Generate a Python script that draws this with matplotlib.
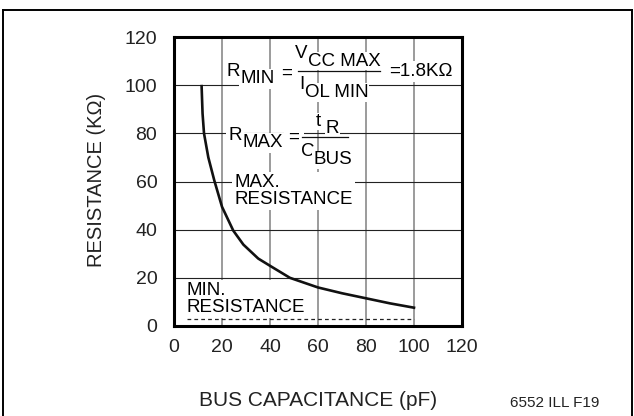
import matplotlib
matplotlib.use("Agg")
import matplotlib.pyplot as plt
from matplotlib.lines import Line2D

plt.rcParams['font.family'] = ['Liberation Sans', 'DejaVu Sans']

# curve: bus capacitance (pF) vs max resistance (kOhm)
cap_pf = [11.5, 11.9, 12.5, 14.3, 16.8, 20, 24.7, 28.9, 35.1, 40, 48.3, 60, 70, 80, 90, 100]
r_max = [99.6, 88.2, 80, 70, 60.4, 49.5, 39.6, 33.8, 28.0, 25.0, 20.0, 16, 13.6, 11.5, 9.4, 7.6]

# min resistance line (dashed)
min_x = [5.3, 100]
min_r = [2.8, 2.8]

x_ticks = [0, 20, 40, 60, 80, 100, 120]
y_ticks = [0, 20, 40, 60, 80, 100, 120]

fig = plt.figure(figsize=(6.34, 4.16), dpi=100)
ax = fig.add_axes([174 / 634, 1 - 326 / 416, 288 / 634, 289 / 416])

# outer frame of the figure
top = 1 - 10 / 416
for xs, ys in [([3, 3], [0, top]), ([3, 632], [top, top]), ([632, 632], [0, top])]:
    fig.add_artist(Line2D([v / 634 for v in xs], ys, color='black', lw=1.4,
                          transform=fig.transFigure))

ax.set_xlim(0, 120)
ax.set_ylim(0, 120)
ax.set_xticks(x_ticks)
ax.set_yticks(y_ticks)
ax.tick_params(length=0, labelsize=14, colors='#222222')
ax.tick_params(axis='y', pad=12)
ax.tick_params(axis='x', pad=9)
for s in ax.spines.values():
    s.set_linewidth(2.2)

# grid: gray verticals, thin black horizontals
for x in x_ticks[1:-1]:
    ax.axvline(x, color='#8a8a8a', lw=1.2, zorder=1)
for y in y_ticks[1:-1]:
    ax.axhline(y, color='#222222', lw=0.8, zorder=1)

ax.plot(cap_pf, r_max, color='#111111', lw=1.9, zorder=6, solid_joinstyle='round')
ax.plot(min_x, min_r, color='#222222', lw=0.9, ls=(0, (3, 2.5)), zorder=3)

fs = 13.5


def box(p=1.5):
    return dict(facecolor='white', edgecolor='none', pad=p)


def sub_text(x, y, main, sub, dy=-5.5):
    t = ax.text(x, y, main, fontsize=fs, ha='left', va='center', bbox=box(), zorder=4.5)
    ax.annotate(sub, xy=(1, 0.5), xycoords=t, xytext=(0.6, dy), textcoords='offset points',
                ha='left', va='center', fontsize=fs, bbox=box(1.0), zorder=4)
    return t


def plain(x, y, s, p=0.5, ha='left', z=4):
    ax.text(x, y, s, fontsize=fs, ha=ha, va='center', bbox=box(p), zorder=z)


# R_MIN formula
sub_text(21.7, 105.8, 'R', 'MIN')
plain(47.0, 105.0, '=', p=5, ha='center')
plain(50.4, 113.3, 'V', p=0)
plain(55.9, 110.0, 'CC MAX')
plain(52.0, 100.2, 'I', p=3, z=3.9)
plain(54.4, 96.9, 'OL MIN')
ax.plot([51.7, 85.8], [106, 106], color='#111111', lw=0.9, zorder=5)
plain(89.6, 105.6, '=1.8K\u03a9', p=1.5)

# R_MAX formula
sub_text(22.5, 79.2, 'R', 'MAX')
plain(50.0, 78.4, '=', p=3, ha='center')
plain(59.0, 84.8, 't', p=0)
plain(63.3, 82.0, 'R')
plain(53.0, 72.3, 'C', p=0)
plain(58.0, 69.0, 'BUS')
ax.plot([53.4, 72.6], [78.5, 78.5], color='#111111', lw=0.9, zorder=5)

ax.text(25.0, 56.0, 'MAX.\nRESISTANCE', fontsize=fs, ha='left', va='center',
        linespacing=1.0, bbox=box(), zorder=4)
ax.text(5.3, 11.1, 'MIN.\nRESISTANCE', fontsize=fs, ha='left', va='center',
        linespacing=1.0, bbox=box(), zorder=4)

fig.text(96 / 634, 1 - 180 / 416, 'RESISTANCE (K\u03a9)', rotation=90, fontsize=14.5,
         ha='center', va='center', color='#222222')
fig.text(318 / 634, 1 - 400 / 416, 'BUS CAPACITANCE (pF)', fontsize=15,
         ha='center', va='center', color='#222222')
fig.text(555 / 634, 1 - 403 / 416, '6552 ILL F19',
         family=['Liberation Sans Narrow', 'Liberation Sans'], fontsize=11,
         ha='center', va='center', color='#222222')

fig.savefig('out.png', dpi=100)
